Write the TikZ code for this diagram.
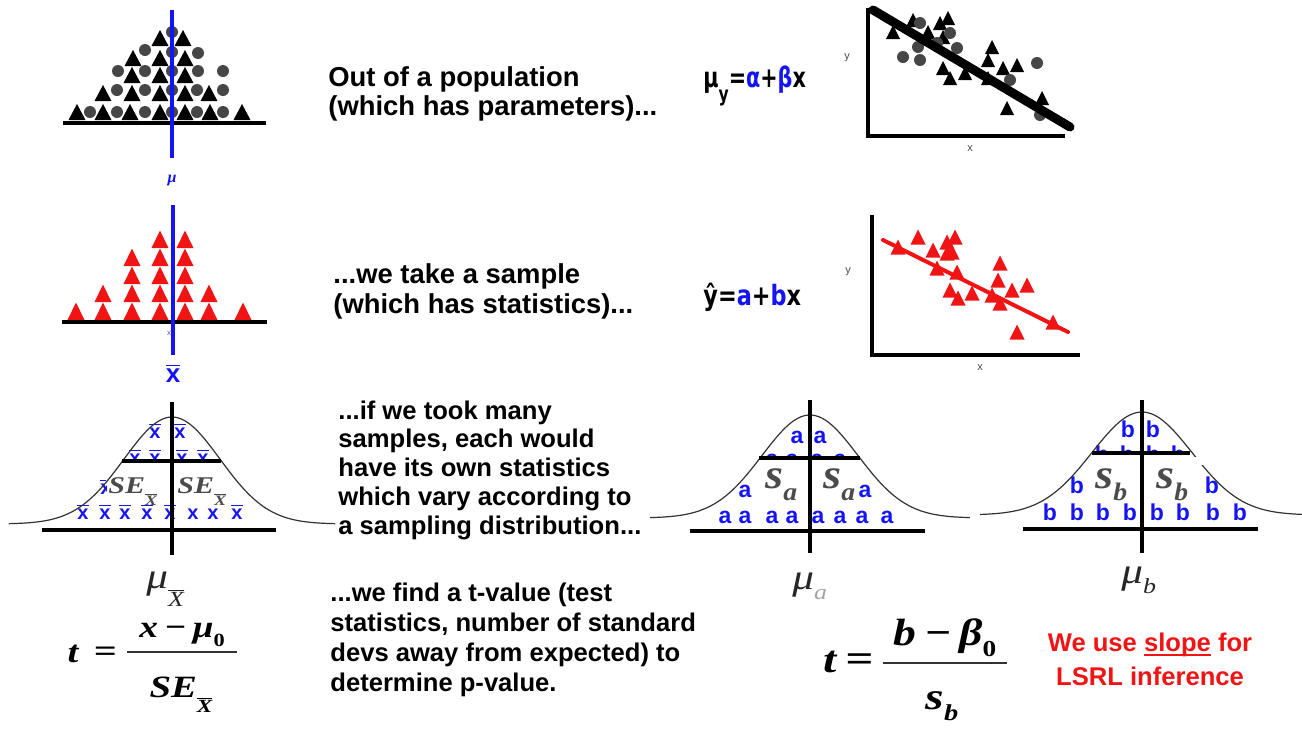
\documentclass[tikz,border=0pt]{standalone}
\usepackage{fontspec}
\usepackage{graphicx}
\setmainfont{Liberation Sans}
\newfontfamily\tnr{Liberation Serif}
\newfontfamily\hnd{DejaVu Sans}
\definecolor{myblue}{RGB}{20,20,245}
\definecolor{myred}{RGB}{240,20,20}
\definecolor{dotgray}{RGB}{70,70,70}
\definecolor{lblgray}{RGB}{75,75,75}
\newcommand{\xbar}{$\overline{\mbox{x}}$}
\newcommand{\XbarSub}{\raisebox{-0.5em}{\scalebox{0.6}{$\overline{\mbox{\itshape X}}$}}}
\newcommand{\lsub}[1]{\raisebox{-0.3em}{\scalebox{0.6}{#1}}}
\newcommand{\redul}[1]{\setbox0\hbox{#1}\rlap{\rule[-2.2pt]{\wd0}{0.9pt}}#1}
\begin{document}
\begin{tikzpicture}[x=0.5pt,y=-0.5pt,
  bt/.pic={\fill[black] (-8.5,0) -- (8.5,0) -- (0,-16) -- cycle;},
  rt/.pic={\fill[myred] (-8.5,0) -- (8.5,0) -- (0,-17.5) -- cycle;},
  sbt/.pic={\fill[black] (-7,7) -- (7,7) -- (0,-7) -- cycle;},
  srt/.pic={\fill[myred] (-7.5,7.5) -- (7.5,7.5) -- (0,-7.5) -- cycle;},
  thickline/.style={line width=2pt, black},
  midline/.style={line width=1.6pt, black},
  blueline/.style={line width=2pt, myblue},
  curve/.style={line width=0.6pt, black!80},
  txtA/.style={anchor=base west, inner sep=0pt, font=\fontsize{13.7}{16}\selectfont\bfseries},
  txtB/.style={anchor=base west, inner sep=0pt, font=\fontsize{12.8}{15}\selectfont\bfseries},
  redtxt/.style={anchor=base, inner sep=0pt, text=myred, font=\fontsize{12.8}{15}\selectfont\bfseries},
  xb/.style={anchor=base, inner sep=0pt, text=myblue, font=\fontsize{10}{12}\selectfont\bfseries},
  alet/.style={anchor=base, inner sep=0pt, text=myblue, font=\fontsize{11.5}{13}\selectfont\bfseries},
  slbl/.style={anchor=base west, inner sep=0pt, text=lblgray, font=\fontsize{21}{23}\selectfont\tnr\bfseries\itshape},
  selbl/.style={anchor=base west, inner sep=0pt, text=lblgray, font=\fontsize{12}{14}\selectfont\tnr\bfseries\itshape},
  mulbl/.style={anchor=base west, inner sep=0pt, text=black!85, font=\fontsize{18}{20}\selectfont\tnr\itshape},
  fmlL/.style={anchor=base, inner sep=0pt, font=\fontsize{15.5}{18}\selectfont\tnr\bfseries\itshape},
  fmlR/.style={anchor=base, inner sep=0pt, font=\fontsize{19}{22}\selectfont\tnr\bfseries\itshape},
  axlbl/.style={inner sep=0pt, text=black!70, font=\fontsize{5.5}{6}\selectfont},
  hand/.style={anchor=west, inner sep=0pt, font=\fontsize{14}{16}\selectfont\hnd\bfseries}
]
\useasboundingbox (0,0) rectangle (1302,729);
\fill[white] (0,0) rectangle (1302,729);

% ---------- Panel 1: population ----------
\foreach \px/\py in {90/112,117/112,145/112,172/112,197/112,223/112,
  117/90,145/90,172/90,197/90,223/90,
  118/71,145/71,172/71,198/71,223/71, 145/50,172/52,198/53, 172/32}
  \fill[dotgray] (\px,\py) circle[radius=3pt];
\foreach \px/\py in {77/120,103/120,130/120,160/120,185/120,210/120,242/120,
  103/101,132/101,160/101,185/101,209/101,
  132/83,160/83,185/83, 133/66,160/66,185/66, 160/46,183/46}
  \pic at (\px,\py) {bt};
\draw[thickline] (63,123) -- (266,123);
\draw[blueline] (172,10) -- (172,158);
\node[inner sep=0pt, text=myblue, font=\fontsize{8}{9}\selectfont\tnr\bfseries\itshape] (mupop) at (172,181) {μ};

% ---------- Panel 2: sample ----------
\foreach \px/\n in {76/1,103/2,132/4,160/5,185/5,209/2,243/1}
  \foreach \k in {1,...,\n}
    \pic at (\px,{320-18*(\k-1)}) {rt};
\draw[thickline] (62,322) -- (267,322);
\node[inner sep=0pt, text=black!60, font=\fontsize{4}{5}\selectfont] (tinyx) at (169,333) {x};
\draw[blueline] (173,205) -- (173,355);
\node[anchor=base, inner sep=0pt, text=myblue, font=\fontsize{13}{15}\selectfont\bfseries] (xbarlbl) at (173,382) {\xbar};

% ---------- Panel 3: sampling distribution of xbar ----------
\foreach \px/\py [count=\i] in {155/438,180/438, 135/464,155/464,182/464,203/464,
  83/519,105/519,125/519,147/519,170/519,237/519}
  \node[xb] (xm\i) at (\px,\py) {\xbar};
\node[xb] (xm13) at (193,519) {x};
\node[xb] (xm14) at (213,519) {x};
\fill[white] (122,462) rectangle (221,476);
\begin{scope}
  \clip (95,470) rectangle (106,500);
  \node[xb] (xpart) at (106,494) {\xbar};
\end{scope}
\draw[curve] plot[domain=-3.4:3.4, samples=90, smooth] ({172+48*\x},{524-107*exp(-0.5*(\x)^2)});
\draw[thickline] (42,530) -- (276,530);
\draw[thickline] (172,402) -- (172,555);
\draw[midline] (122,461) -- (221,461);
\node[selbl] (se1) at (108,493) {\scalebox{1.25}[1]{SE\XbarSub}};
\node[selbl] (se2) at (177,493) {\scalebox{1.25}[1]{SE\XbarSub}};
\node[mulbl] (mux) at (146,588) {\scalebox{1.2}[1]{μ\XbarSub}};

% ---------- Middle text ----------
\node[txtA] (l1a) at (328,86.5) {Out of a population};
\node[txtA] (l1b) at (328,115.5) {(which has parameters)...};
\node[txtA] (l2a) at (333,283) {...we take a sample};
\node[txtA] (l2b) at (333,313) {(which has statistics)...};
\node[txtB] (l3a) at (338,419.5) {...if we took many};
\node[txtB] (l3b) at (338,447.5) {samples, each would};
\node[txtB] (l3c) at (338,476.5) {have its own statistics};
\node[txtB] (l3d) at (338,505.5) {which vary according to};
\node[txtB] (l3e) at (338,534.5) {a sampling distribution...};
\node[txtB] (l4a) at (330,601.5) {...we find a t-value (test};
\node[txtB] (l4b) at (330,631.5) {statistics, number of standard};
\node[txtB] (l4c) at (330,661.5) {devs away from expected) to};
\node[txtB] (l4d) at (330,691.5) {determine p-value.};

% ---------- Handwritten equations ----------
\node[hand] (eqpop) at (703,86) {\scalebox{0.74}[1]{μ\raisebox{-0.5em}{\scalebox{0.75}{y}}=\textcolor{myblue}{α}+\textcolor{myblue}{β}x}};
\node[hand] (eqsam) at (703,297) {\scalebox{0.8}[1]{ŷ=\textcolor{myblue}{a}+\textcolor{myblue}{b}x}};

% ---------- Scatter plot 1 ----------
\foreach \px/\py in {913/20,893/32,928/32,940/23,948/18,943/37,943/68,950/78,965/73,
  992/47,988/60,1003/68,1017/65,988/78,1007/108,1042/98}
  \pic at (\px,\py) {sbt};
\foreach \px/\py in {920/23,918/47,903/57,920/60,950/33,957/48,1037/63,1010/80,1040/115,937/43}
  \fill[dotgray] (\px,\py) circle[radius=3pt];
\draw[thickline] (868,8) -- (868,136) -- (1065,136);
\draw[line width=4.5pt, black, line cap=round] (873,10) -- (1070,127);
\node[axlbl] (ylab1) at (847,58) {y};
\node[axlbl] (xlab1) at (970,149) {x};

% ---------- Scatter plot 2 ----------
\foreach \px/\py in {898/247,918/237,933/250,947/242,955/237,947/253,952/252,937/268,957/272,
  950/290,958/298,972/293,1000/263,998/280,992/295,1000/303,1012/290,1027/285,1017/332,1053/322}
  \pic at (\px,\py) {srt};
\draw[line width=2pt, myred, line cap=round] (883,240) -- (1068,332);
\draw[thickline] (872,215) -- (872,355) -- (1080,355);
\node[axlbl] (ylab2) at (848,272) {y};
\node[axlbl] (xlab2) at (980,368) {x};

% ---------- Panel a ----------
\foreach \px/\py [count=\i] in {797/443,820/443, 772/466,792/466,817/466,840/466,
  745/497,865/497, 725/523,745/523,772/523,792/523,818/523,840/523,862/523,887/523}
  \node[alet] (am\i) at (\px,\py) {a};
\fill[white] (760,459.5) rectangle (860,476);
\draw[curve] plot[domain=-3.33:3.33, samples=90, smooth] ({810+48*\x},{518-103*exp(-0.5*(\x)^2)});
\draw[thickline] (690,531) -- (925,531);
\draw[thickline] (810,400) -- (810,553);
\draw[midline] (759,458) -- (860,458);
\node[slbl] (sa1) at (765,488) {\scalebox{1.1}[1]{s\lsub{a}}};
\node[slbl] (sa2) at (823,488) {\scalebox{1.1}[1]{s\lsub{a}}};
\node[mulbl] (mua) at (792,589) {\scalebox{1.2}[1]{μ\lsub{\textcolor{black!35}{a}}}};

% ---------- Panel b ----------
\foreach \px/\py [count=\i] in {1128/437,1153/437, 1102/462,1127/462,1153/462,1178/462,
  1077/493,1212/493, 1050/520,1077/520,1103/520,1130/520,1157/520,1183/520,1213/520,1240/520}
  \node[alet] (bm\i) at (\px,\py) {b};
\fill[white] (1093,454.5) rectangle (1191,474);
\draw[curve] plot[domain=-3.24:3.24, samples=90, smooth] ({1142+50*\x},{515-103*exp(-0.5*(\x)^2)});
\fill[white] (1192,457) rectangle (1203,465);
\draw[thickline] (1023,529) -- (1258,529);
\draw[thickline] (1142,400) -- (1142,553);
\draw[midline] (1092,453) -- (1190,453);
\node[slbl] (sb1) at (1095,488) {\scalebox{1.1}[1]{s\lsub{b}}};
\node[slbl] (sb2) at (1156,488) {\scalebox{1.1}[1]{s\lsub{b}}};
\node[mulbl] (mub) at (1121,583) {\scalebox{1.2}[1]{μ\lsub{b}}};

% ---------- Formulas ----------
\node[fmlL] (tL) at (73,662) {\scalebox{1.25}[1]{t}};
\node[fmlL] (eqL) at (105,661) {\scalebox{1.3}[1]{=}};
\node[fmlL] (numL) at (182,637) {\scalebox{1.2}[1]{x\,−\,μ\lsub{\upshape 0}}};
\draw[line width=1pt, black!80] (127,652) -- (237,652);
\node[fmlL] (denL) at (181,697) {\scalebox{1.25}[1]{SE\XbarSub}};

\node[fmlR] (tR) at (830,672) {\scalebox{1.25}[1]{t}};
\node[fmlR] (eqR) at (860,671) {\scalebox{1.3}[1]{=}};
\node[fmlR] (numR) at (945,645) {\scalebox{1.2}[1]{b\,−\,β\lsub{\upshape 0}}};
\draw[line width=1pt, black!80] (883,663) -- (1007,663);
\node[fmlR] (denR) at (942,709) {\scalebox{1.25}[1]{s\lsub{b}}};

% ---------- Red note ----------
\node[redtxt] (red1) at (1150,651.5) {We use \redul{slope} for};
\node[redtxt] (red2) at (1150,685.5) {LSRL inference};
\end{tikzpicture}
\end{document}
